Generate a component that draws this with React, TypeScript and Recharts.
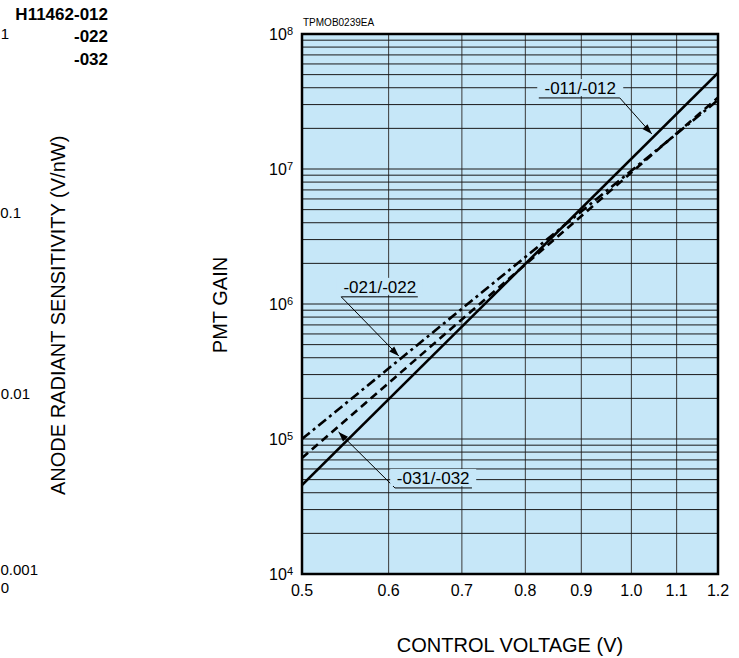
import {
  LineChart,
  Line,
  XAxis,
  YAxis,
  CartesianGrid,
  ReferenceArea,
  ReferenceLine,
  ReferenceDot,
} from 'recharts';

// control voltage (V) at the two ends of each straight log-log line
const voltage = [0.5, 1.2];
// PMT gain at those voltages
const gain011 = [45600, 51400000];
const gain021 = [100000, 32400000];
const gain031 = [72300, 33800000];

const voltageTicks = [0.5, 0.6, 0.7, 0.8, 0.9, 1.0, 1.1, 1.2];
const gainDecades = [1e4, 1e5, 1e6, 1e7, 1e8];
const minorSteps = [2, 3, 4, 5, 6, 7, 8, 9];

const gainTicks: number[] = [];
gainDecades.forEach((d, i) => {
  gainTicks.push(d);
  if (i < gainDecades.length - 1) minorSteps.forEach((m) => gainTicks.push(d * m));
});

const data = voltage.map((v, i) => ({
  v,
  s011: gain011[i],
  s021: gain021[i],
  s031: gain031[i],
}));

// callouts, in data coordinates (voltage, gain)
const callouts = [
  { text: '-011/-012', label: [0.898, 3.98e7], under: [0.823, 0.976, 3.36e7], from: [0.976, 3.36e7], tip: [1.044, 1.82e7], angle: 47 },
  { text: '-021/-022', label: [0.589, 1.34e6], under: [0.543, 0.638, 1.13e6], from: [0.543, 1.13e6], tip: [0.613, 4.12e5], angle: 45 },
  { text: '-031/-032', label: [0.659, 5.14e4], under: [0.608, 0.715, 4.34e4], from: [0.608, 4.34e4], tip: [0.54, 1.127e5], angle: -134 },
];

const FONT = '"Liberation Sans", Arial, Helvetica, sans-serif';
const BG = '#c6e7f8';

const GainTick = (props: any) => {
  const { x, y, payload } = props;
  const exp = Math.round(Math.log10(payload.value));
  if (Math.abs(payload.value - 10 ** exp) > 1e-6 * payload.value) return <g />;
  return (
    <text x={x} y={y} textAnchor="end" fontSize={16} fill="#000" fontFamily={FONT}>
      <tspan dy="0.35em">10</tspan>
      <tspan dy={-5} fontSize={11}>{exp}</tspan>
    </text>
  );
};

const VoltTick = (props: any) => {
  const { x, y, payload } = props;
  return (
    <text x={x} y={y} dy="0.71em" textAnchor="middle" fontSize={16} fill="#000" fontFamily={FONT}>
      {payload.value.toFixed(1)}
    </text>
  );
};

const App = () => {
  return (
    <div style={{ position: 'absolute', left: 0, top: 0, width: 739, height: 658, background: '#fff' }}>
      <LineChart
        width={739}
        height={658}
        data={data}
        margin={{ top: 34, right: 21, left: 242, bottom: 54 }}
      >
        <CartesianGrid horizontal={false} stroke="#3a3a3a" strokeWidth={1} fill={BG} fillOpacity={1} />
        <CartesianGrid vertical={false} stroke="#1a1a1a" strokeWidth={1} />
        <XAxis
          dataKey="v"
          type="number"
          scale="log"
          domain={[0.5, 1.2]}
          allowDataOverflow
          ticks={voltageTicks}
          interval={0}
          tickLine={false}
          axisLine={false}
          tickSize={0}
          tickMargin={11}
          height={30}
          tick={VoltTick}
        />
        <YAxis
          type="number"
          scale="log"
          domain={[1e4, 1e8]}
          allowDataOverflow
          ticks={gainTicks}
          interval={0}
          tickLine={false}
          axisLine={false}
          tickSize={0}
          tickMargin={9}
          width={60}
          tick={GainTick}
        />
        {callouts.map((c) => (
          <ReferenceDot
            key={'bg' + c.text}
            x={c.label[0]}
            y={c.label[1]}
            ifOverflow="visible"
            shape={(p: any) => (
              <g>
                <rect x={p.cx - 43} y={p.cy - 9} width={86} height={17} fill={BG} />
                <text
                  x={p.cx}
                  y={p.cy}
                  dy="0.36em"
                  textAnchor="middle"
                  fontSize={17}
                  fill="#000"
                  fontFamily={FONT}
                >
                  {c.text}
                </text>
              </g>
            )}
          />
        ))}
        <Line
          type="linear"
          dataKey="s011"
          stroke="#000"
          strokeWidth={2.6}
          dot={false}
          activeDot={false}
          isAnimationActive={false}
        />
        <Line
          type="linear"
          dataKey="s021"
          stroke="#000"
          strokeWidth={2.6}
          strokeDasharray="10 4 3 4"
          dot={false}
          activeDot={false}
          isAnimationActive={false}
        />
        <Line
          type="linear"
          dataKey="s031"
          stroke="#000"
          strokeWidth={2.6}
          strokeDasharray="8 5"
          dot={false}
          activeDot={false}
          isAnimationActive={false}
        />
        {callouts.map((c) => (
          <ReferenceLine
            key={'u' + c.text}
            segment={[
              { x: c.under[0], y: c.under[2] },
              { x: c.under[1], y: c.under[2] },
            ]}
            stroke="#000"
            strokeWidth={1}
            ifOverflow="visible"
          />
        ))}
        {callouts.map((c) => (
          <ReferenceLine
            key={'l' + c.text}
            segment={[
              { x: c.from[0], y: c.from[1] },
              { x: c.tip[0], y: c.tip[1] },
            ]}
            stroke="#000"
            strokeWidth={1}
            ifOverflow="visible"
          />
        ))}
        {callouts.map((c) => (
          <ReferenceDot
            key={'a' + c.text}
            x={c.tip[0]}
            y={c.tip[1]}
            ifOverflow="visible"
            shape={(p: any) => (
              <polygon
                points="0,0 -10,-3.5 -10,3.5"
                transform={`translate(${p.cx},${p.cy}) rotate(${c.angle})`}
                fill="#000"
              />
            )}
          />
        ))}
        <ReferenceArea
          x1={0.5}
          x2={1.2}
          y1={1e4}
          y2={1e8}
          fill="none"
          fillOpacity={0}
          stroke="#000"
          strokeWidth={2.5}
          ifOverflow="visible"
        />
      </LineChart>
      <svg
        width={739}
        height={658}
        style={{ position: 'absolute', left: 0, top: 0, pointerEvents: 'none' }}
        fontFamily={FONT}
      >
        <text x={303} y={22} dy="0.35em" fontSize={10}>TPMOB0239EA</text>
        <text x={220} y={305} textAnchor="middle" dy="0.35em" fontSize={20} transform="rotate(-90 220 305)">
          PMT GAIN
        </text>
        <text x={510} y={645} textAnchor="middle" dy="0.35em" fontSize={20}>
          CONTROL VOLTAGE (V)
        </text>
        {/* fragment of the neighbouring chart */}
        <text x={108} y={14} textAnchor="end" dy="0.35em" fontSize={17} fontWeight="bold">H11462-012</text>
        <text x={108} y={36} textAnchor="end" dy="0.35em" fontSize={17} fontWeight="bold">-022</text>
        <text x={108} y={59} textAnchor="end" dy="0.35em" fontSize={17} fontWeight="bold">-032</text>
        <text x={9} y={34} textAnchor="end" dy="0.35em" fontSize={15}>1</text>
        <text x={21} y={213} textAnchor="end" dy="0.35em" fontSize={15}>0.1</text>
        <text x={30} y={394} textAnchor="end" dy="0.35em" fontSize={15}>0.01</text>
        <text x={38} y={570} textAnchor="end" dy="0.35em" fontSize={15}>0.001</text>
        <text x={9} y={588} textAnchor="end" dy="0.35em" fontSize={15}>0</text>
        <text x={58} y={495} dy="0.35em" fontSize={20} transform="rotate(-90 58 495)">
          ANODE RADIANT SENSITIVITY (V/nW)
        </text>
      </svg>
    </div>
  );
};

export default App;
